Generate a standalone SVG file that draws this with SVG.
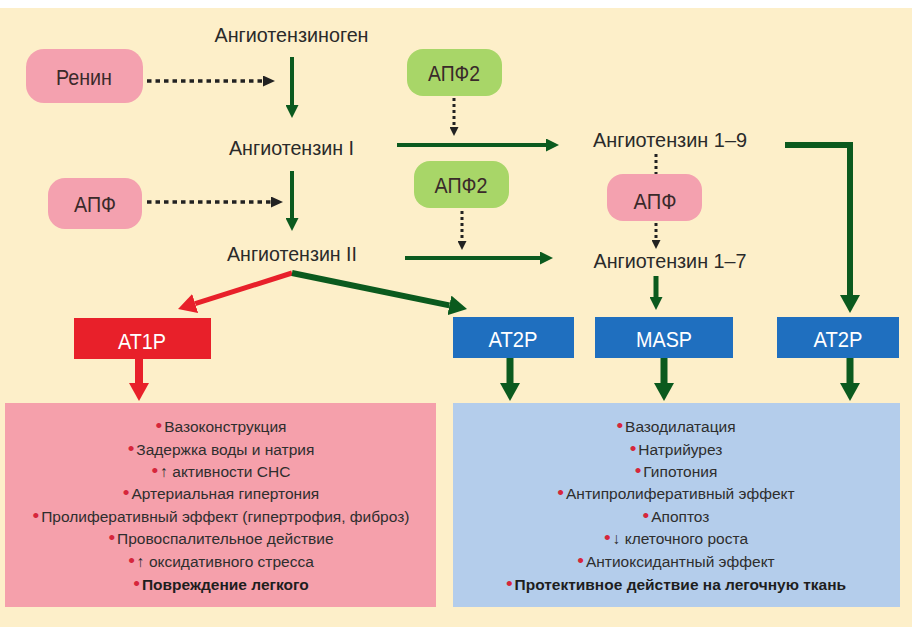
<svg xmlns="http://www.w3.org/2000/svg" width="915" height="627" viewBox="0 0 915 627">
<defs>
<style>
.lbl{font-family:"Liberation Sans",Arial,sans-serif;font-size:21px;fill:#2a2a2a;text-anchor:middle}
.nl{font-family:"Liberation Sans",Arial,sans-serif;font-size:22px;fill:#3a2a2a;text-anchor:middle}
.bl{font-family:"Liberation Sans",Arial,sans-serif;font-size:22px;fill:#ffffff;text-anchor:middle}
.pt{font-family:"Liberation Sans",Arial,sans-serif;font-size:15.5px;fill:#2e2e2e;text-anchor:middle}
.b{font-weight:bold;fill:#1e1e1e}
.dot{fill:#d6263b;font-size:19px}
.pink{fill:#f4a1af}
.green{fill:#a8d668}
.g{stroke:#0b5a1e;fill:none}
.r{stroke:#e8202a;fill:none}
.d{stroke:#222;fill:none}
</style>
<marker id="hg" viewBox="0 0 10 10" refX="0" refY="5" markerUnits="userSpaceOnUse" markerWidth="13" markerHeight="13" orient="auto" preserveAspectRatio="none"><path d="M0,0 L10,5 L0,10 z" fill="#0b5a1e"/></marker>
<marker id="hgL" viewBox="0 0 10 10" refX="0" refY="5" markerUnits="userSpaceOnUse" markerWidth="18" markerHeight="20" orient="auto" preserveAspectRatio="none"><path d="M0,0 L10,5 L0,10 z" fill="#0b5a1e"/></marker>
<marker id="hr" viewBox="0 0 10 10" refX="0" refY="5" markerUnits="userSpaceOnUse" markerWidth="18" markerHeight="20" orient="auto" preserveAspectRatio="none"><path d="M0,0 L10,5 L0,10 z" fill="#e8202a"/></marker>
<marker id="hd" viewBox="0 0 10 10" refX="0" refY="5" markerUnits="userSpaceOnUse" markerWidth="12" markerHeight="11" orient="auto" preserveAspectRatio="none"><path d="M0,0 L10,5 L0,10 z" fill="#222"/></marker>
<marker id="hds" viewBox="0 0 10 10" refX="0" refY="5" markerUnits="userSpaceOnUse" markerWidth="9" markerHeight="9" orient="auto" preserveAspectRatio="none"><path d="M0,0 L10,5 L0,10 z" fill="#222"/></marker>
</defs>
<rect x="0" y="0" width="915" height="627" fill="#ffffff"/>
<rect x="0" y="8" width="912" height="619" fill="#fdefc9"/>

<g id="panels">
<rect x="5" y="403" width="431" height="204" fill="#f5a0ab"/>
<rect x="453" y="403" width="447" height="204" fill="#b4cdeb"/>
</g>

<g id="connectors">
<line class="g" x1="292" y1="57" x2="292" y2="105" stroke-width="4" marker-end="url(#hg)"/>
<line class="g" x1="292" y1="171" x2="292" y2="218" stroke-width="4" marker-end="url(#hg)"/>
<line class="g" x1="397" y1="145" x2="546" y2="145" stroke-width="4" marker-end="url(#hg)"/>
<line class="g" x1="405" y1="258" x2="540" y2="258" stroke-width="4" marker-end="url(#hg)"/>
<path class="g" d="M785,145 H850 V295" stroke-width="6" stroke-linejoin="miter" marker-end="url(#hgL)"/>
<line class="g" x1="656" y1="276" x2="656" y2="297" stroke-width="5" marker-end="url(#hg)"/>
<line class="r" x1="292" y1="273" x2="195.2" y2="303.6" stroke-width="5" marker-end="url(#hr)"/>
<line class="g" x1="292" y1="273" x2="449.4" y2="305.4" stroke-width="6" marker-end="url(#hgL)"/>
<line class="r" x1="139" y1="359" x2="139" y2="383" stroke-width="8" marker-end="url(#hr)"/>
<line class="g" x1="510" y1="358" x2="510" y2="383" stroke-width="7" marker-end="url(#hgL)"/>
<line class="g" x1="664" y1="358" x2="664" y2="383" stroke-width="7" marker-end="url(#hgL)"/>
<line class="g" x1="850" y1="358" x2="850" y2="383" stroke-width="7" marker-end="url(#hgL)"/>
<line class="d" x1="147" y1="81" x2="263" y2="81" stroke-width="3.5" stroke-dasharray="4.5 4" marker-end="url(#hd)"/>
<line class="d" x1="147" y1="202" x2="271" y2="202" stroke-width="3.5" stroke-dasharray="4.5 4" marker-end="url(#hd)"/>
<line class="d" x1="454" y1="98" x2="454" y2="127" stroke-width="3" stroke-dasharray="3 3" marker-end="url(#hds)"/>
<line class="d" x1="462" y1="211" x2="462" y2="241" stroke-width="3" stroke-dasharray="3 3" marker-end="url(#hds)"/>
<line class="d" x1="656" y1="154" x2="656" y2="174" stroke-width="3" stroke-dasharray="3 3"/>
<line class="d" x1="656" y1="223" x2="656" y2="240" stroke-width="3" stroke-dasharray="3 3" marker-end="url(#hds)"/>
</g>

<g id="angiotensinogen"><text class="lbl" x="291.5" y="42" textLength="154" lengthAdjust="spacingAndGlyphs">Ангиотензиноген</text></g>
<g id="angiotensin1"><text class="lbl" x="291.5" y="155" textLength="125" lengthAdjust="spacingAndGlyphs">Ангиотензин I</text></g>
<g id="angiotensin2"><text class="lbl" x="292" y="261" textLength="130" lengthAdjust="spacingAndGlyphs">Ангиотензин II</text></g>
<g id="angiotensin19"><text class="lbl" x="670" y="147" textLength="154" lengthAdjust="spacingAndGlyphs">Ангиотензин 1–9</text></g>
<g id="angiotensin17"><text class="lbl" x="670" y="268" textLength="153" lengthAdjust="spacingAndGlyphs">Ангиотензин 1–7</text></g>

<g id="renin"><rect class="pink" x="26" y="49" width="117" height="54" rx="18"/><text class="nl" x="84" y="85" textLength="56" lengthAdjust="spacingAndGlyphs">Ренин</text></g>
<g id="apf-left"><rect class="pink" x="48" y="178" width="94" height="51" rx="17"/><text class="nl" x="95" y="212" textLength="42" lengthAdjust="spacingAndGlyphs">АПФ</text></g>
<g id="apf2-top"><rect class="green" x="407" y="49" width="95" height="47" rx="16"/><text class="nl" x="454" y="81" textLength="52" lengthAdjust="spacingAndGlyphs">АПФ2</text></g>
<g id="apf2-mid"><rect class="green" x="414" y="161" width="95" height="47" rx="16"/><text class="nl" x="461" y="193" textLength="53" lengthAdjust="spacingAndGlyphs">АПФ2</text></g>
<g id="apf-center"><rect class="pink" x="607" y="174" width="95" height="47" rx="16"/><text class="nl" x="655" y="209" textLength="43" lengthAdjust="spacingAndGlyphs">АПФ</text></g>

<g id="at1p"><rect x="74" y="318" width="137" height="41" fill="#e8202a"/><text class="bl" x="142" y="349" textLength="48" lengthAdjust="spacingAndGlyphs">AT1P</text></g>
<g id="at2p-1"><rect x="453" y="317" width="121" height="41" fill="#1f6fbf"/><text class="bl" x="513" y="347" textLength="49" lengthAdjust="spacingAndGlyphs">AT2P</text></g>
<g id="masp"><rect x="595" y="317" width="138" height="41" fill="#1f6fbf"/><text class="bl" x="664" y="347" textLength="56" lengthAdjust="spacingAndGlyphs">MASP</text></g>
<g id="at2p-2"><rect x="777" y="317" width="122" height="41" fill="#1f6fbf"/><text class="bl" x="838" y="347" textLength="49" lengthAdjust="spacingAndGlyphs">AT2P</text></g>

<g id="at1-effects">
<text class="pt" x="221" y="432"><tspan class="dot">•</tspan><tspan dx="2">Вазоконструкция</tspan></text>
<text class="pt" x="221" y="455"><tspan class="dot">•</tspan><tspan dx="2">Задержка воды и натрия</tspan></text>
<text class="pt" x="221" y="477"><tspan class="dot">•</tspan><tspan dx="2">↑ активности СНС</tspan></text>
<text class="pt" x="221" y="499"><tspan class="dot">•</tspan><tspan dx="2">Артериальная гипертония</tspan></text>
<text class="pt" x="221" y="522"><tspan class="dot">•</tspan><tspan dx="2">Пролиферативный эффект (гипертрофия, фиброз)</tspan></text>
<text class="pt" x="221" y="544"><tspan class="dot">•</tspan><tspan dx="2">Провоспалительное действие</tspan></text>
<text class="pt" x="221" y="567"><tspan class="dot">•</tspan><tspan dx="2">↑ оксидативного стресса</tspan></text>
<text class="pt" x="221" y="590"><tspan class="dot">•</tspan><tspan dx="2" class="b">Повреждение легкого</tspan></text>
</g>
<g id="at2-effects">
<text class="pt" x="676" y="432"><tspan class="dot">•</tspan><tspan dx="2">Вазодилатация</tspan></text>
<text class="pt" x="676" y="455"><tspan class="dot">•</tspan><tspan dx="2">Натрийурез</tspan></text>
<text class="pt" x="676" y="477"><tspan class="dot">•</tspan><tspan dx="2">Гипотония</tspan></text>
<text class="pt" x="676" y="499"><tspan class="dot">•</tspan><tspan dx="2">Антипролиферативный эффект</tspan></text>
<text class="pt" x="676" y="522"><tspan class="dot">•</tspan><tspan dx="2">Апоптоз</tspan></text>
<text class="pt" x="676" y="544"><tspan class="dot">•</tspan><tspan dx="2">↓ клеточного роста</tspan></text>
<text class="pt" x="676" y="567"><tspan class="dot">•</tspan><tspan dx="2">Антиоксидантный эффект</tspan></text>
<text class="pt" x="676" y="590"><tspan class="dot">•</tspan><tspan dx="2" class="b">Протективное действие на легочную ткань</tspan></text>
</g>
</svg>
